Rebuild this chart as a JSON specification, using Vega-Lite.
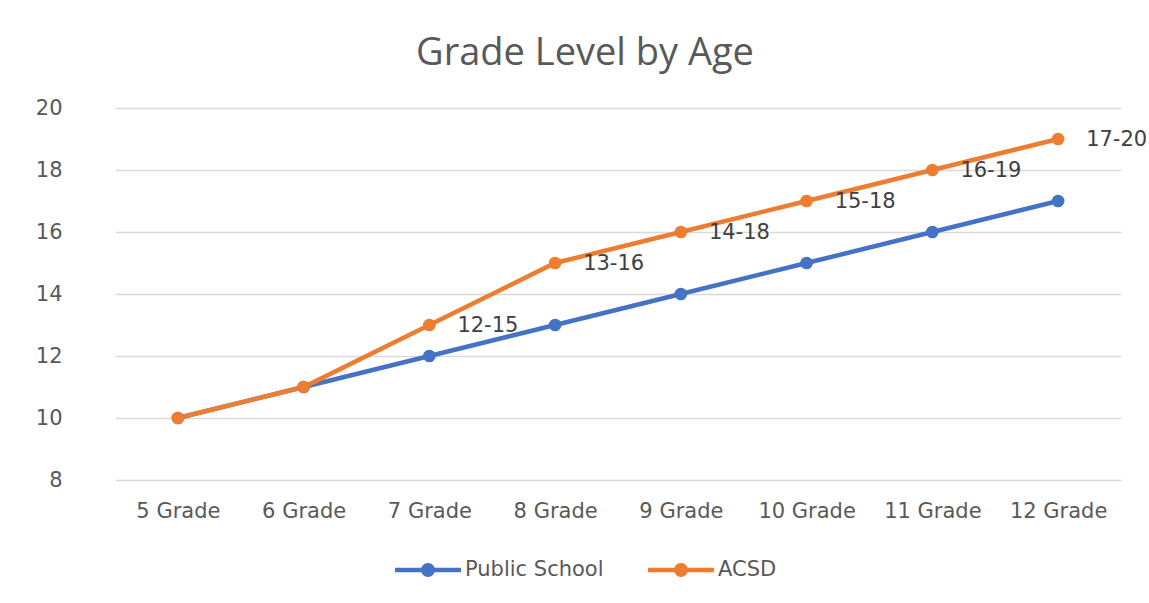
{
  "$schema": "https://vega.github.io/schema/vega-lite/v6.json",
  "autosize": {"type": "none"},
  "width": 1006,
  "height": 372,
  "padding": {"left": 115, "top": 108, "right": 28, "bottom": 123},
  "background": "white",
  "config": {"view": {"stroke": null}},
  "title": {
    "text": "Grade Level by Age",
    "anchor": "middle",
    "frame": "group",
    "dx": -33,
    "offset": 24,
    "fontSize": 38,
    "font": "Open Sans, sans-serif",
    "fontWeight": "normal",
    "color": "#595959"
  },
  "data": {
    "values": [
      {"grade": "5 Grade", "series": "Public School", "age": 10, "label": null},
      {"grade": "6 Grade", "series": "Public School", "age": 11, "label": null},
      {"grade": "7 Grade", "series": "Public School", "age": 12, "label": null},
      {"grade": "8 Grade", "series": "Public School", "age": 13, "label": null},
      {"grade": "9 Grade", "series": "Public School", "age": 14, "label": null},
      {"grade": "10 Grade", "series": "Public School", "age": 15, "label": null},
      {"grade": "11 Grade", "series": "Public School", "age": 16, "label": null},
      {"grade": "12 Grade", "series": "Public School", "age": 17, "label": null},
      {"grade": "5 Grade", "series": "ACSD", "age": 10, "label": null},
      {"grade": "6 Grade", "series": "ACSD", "age": 11, "label": null},
      {"grade": "7 Grade", "series": "ACSD", "age": 13, "label": "12-15"},
      {"grade": "8 Grade", "series": "ACSD", "age": 15, "label": "13-16"},
      {"grade": "9 Grade", "series": "ACSD", "age": 16, "label": "14-18"},
      {"grade": "10 Grade", "series": "ACSD", "age": 17, "label": "15-18"},
      {"grade": "11 Grade", "series": "ACSD", "age": 18, "label": "16-19"},
      {"grade": "12 Grade", "series": "ACSD", "age": 19, "label": "17-20"}
    ]
  },
  "encoding": {
    "x": {
      "field": "grade",
      "type": "ordinal",
      "sort": ["5 Grade", "6 Grade", "7 Grade", "8 Grade", "9 Grade", "10 Grade", "11 Grade", "12 Grade"],
      "scale": {"type": "point", "padding": 0.5},
      "axis": {
        "title": null,
        "labelAngle": 0,
        "domain": false,
        "ticks": false,
        "grid": false,
        "labelPadding": 20,
        "labelFontSize": 21,
        "labelFont": "DejaVu Sans, sans-serif",
        "labelColor": "#595959"
      }
    },
    "y": {
      "field": "age",
      "type": "quantitative",
      "scale": {"domain": [8, 20], "nice": false, "zero": false},
      "axis": {
        "title": null,
        "values": [8, 10, 12, 14, 16, 18, 20],
        "domain": false,
        "ticks": false,
        "grid": true,
        "gridColor": "#d9d9d9",
        "gridWidth": 1.5,
        "labelPadding": 53,
        "labelFontSize": 21,
        "labelFont": "DejaVu Sans, sans-serif",
        "labelColor": "#595959"
      }
    },
    "color": {
      "field": "series",
      "type": "nominal",
      "sort": ["Public School", "ACSD"],
      "scale": {"domain": ["Public School", "ACSD"], "range": ["#4472C4", "#ED7D31"]},
      "legend": {
        "title": null,
        "orient": "none",
        "direction": "horizontal",
        "legendX": 280,
        "legendY": 429,
        "symbolType": "M-1,-0.07 L1,-0.07 L1,0.07 L-1,0.07 Z M-0.21,0 A0.21,0.21 0 1,1 0.21,0 A0.21,0.21 0 1,1 -0.21,0 Z",
        "symbolSize": 4356,
        "symbolStrokeWidth": 0,
        "symbolOpacity": 1,
        "labelOffset": 4,
        "columnPadding": 44,
        "labelFontSize": 21,
        "labelFont": "DejaVu Sans, sans-serif",
        "labelColor": "#595959"
      }
    }
  },
  "layer": [
    {
      "mark": {"type": "line", "strokeWidth": 4.5}
    },
    {
      "mark": {"type": "point", "filled": true, "size": 160, "opacity": 1}
    },
    {
      "transform": [{"filter": "datum.label != null"}],
      "mark": {"type": "text", "align": "left", "baseline": "middle", "dx": 28, "dy": 1, "fontSize": 21, "font": "DejaVu Sans, sans-serif"},
      "encoding": {"text": {"field": "label"}, "color": {"value": "#404040"}}
    }
  ]
}
